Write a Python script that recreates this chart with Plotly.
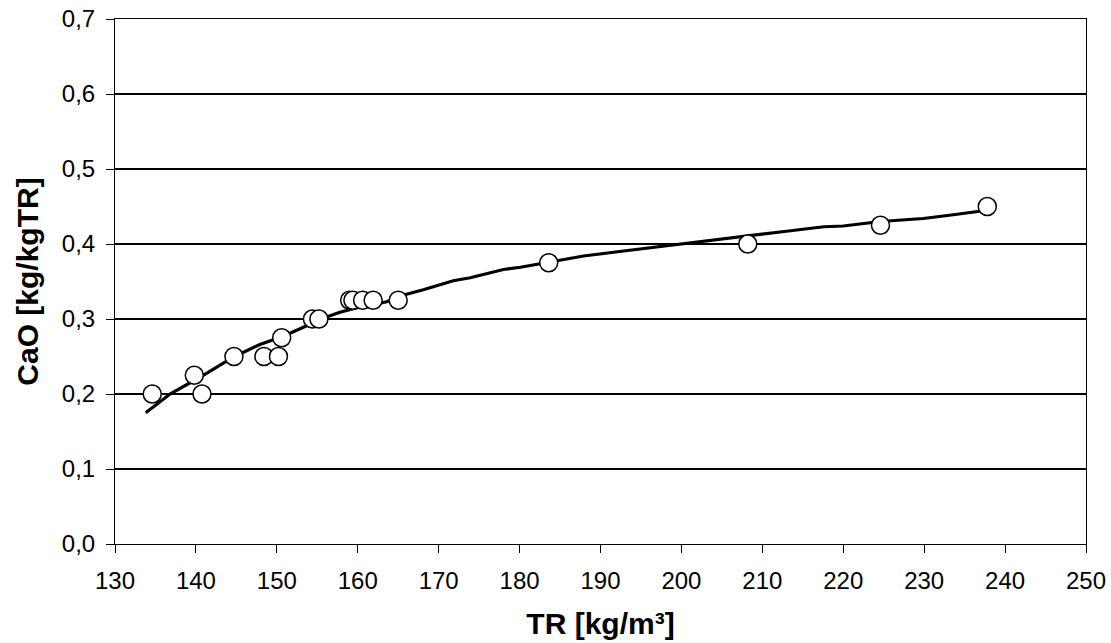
import plotly.graph_objects as go

# Measured samples: dry residue TR vs. CaO dosage
tr_points = [134.6, 139.8, 140.75, 144.7, 148.4, 150.2, 150.6, 154.4, 155.2,
             159.0, 159.4, 160.6, 161.9, 165.0, 183.6, 208.2, 224.6, 237.8]
cao_points = [0.200, 0.225, 0.200, 0.250, 0.250, 0.250, 0.275, 0.300, 0.300,
              0.325, 0.325, 0.325, 0.325, 0.325, 0.375, 0.400, 0.425, 0.450]

# Smoothed trend curve
tr_curve = [133.8, 136.8, 140.6, 144.6, 147.9, 150.8, 153.7, 155.7, 157.8,
            160.3, 163.6, 165.0, 168.1, 171.8, 173.9, 178.0, 180.1, 183.8,
            187.9, 191.6, 199.0, 203.9, 212.2, 217.6, 220.0, 224.6, 229.9,
            233.6, 237.1]
cao_curve = [0.175, 0.200, 0.223, 0.249, 0.266, 0.277, 0.291, 0.301, 0.309,
             0.316, 0.323, 0.330, 0.339, 0.351, 0.355, 0.366, 0.369, 0.376,
             0.384, 0.389, 0.399, 0.405, 0.416, 0.423, 0.424, 0.430, 0.434,
             0.439, 0.444]

x_ticks = list(range(130, 251, 10))
y_ticks = [0.0, 0.1, 0.2, 0.3, 0.4, 0.5, 0.6, 0.7]

font_family = "Liberation Sans, Arial, sans-serif"

fig = go.Figure()
fig.add_trace(go.Scatter(
    x=tr_curve, y=cao_curve, mode="lines",
    line=dict(color="black", width=3.2),
    hoverinfo="skip", showlegend=False,
))
fig.add_trace(go.Scatter(
    x=tr_points, y=cao_points, mode="markers",
    marker=dict(symbol="circle", size=18, color="white",
                line=dict(color="black", width=1.5)),
    showlegend=False,
))

fig.update_layout(
    width=1111, height=643,
    margin=dict(l=115, r=25, t=19, b=99, autoexpand=False),
    paper_bgcolor="white", plot_bgcolor="white",
    separators=", ",
    font=dict(family=font_family, size=24, color="black"),
)
fig.update_xaxes(
    range=[130, 250], tickvals=x_ticks, automargin=False,
    ticks="outside", ticklen=8, tickwidth=1, tickcolor="black",
    showline=True, linecolor="black", linewidth=1, mirror=True,
    showgrid=False, zeroline=False,
    tickfont=dict(size=24), ticklabelstandoff=7,
    title=dict(text="<b>TR [kg/m³]</b>", font=dict(size=30), standoff=20),
)
fig.update_yaxes(
    range=[0, 0.7], tickvals=y_ticks, tickformat=".1f", automargin=False,
    ticks="outside", ticklen=8, tickwidth=1, tickcolor="black",
    showline=True, linecolor="black", linewidth=1, mirror=True,
    showgrid=True, gridcolor="black", gridwidth=2, zeroline=False,
    tickfont=dict(size=24), ticklabelstandoff=6,
    title=dict(text="<b>CaO [kg/kgTR]</b>", font=dict(size=30), standoff=14),
)

fig.write_html("out.html")
